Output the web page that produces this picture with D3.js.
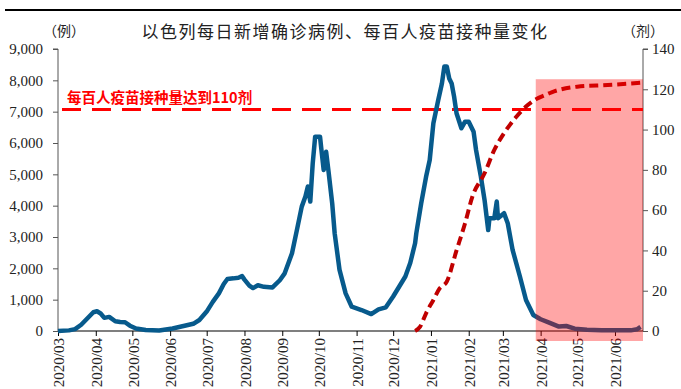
<!DOCTYPE html>
<html lang="zh">
<head>
<meta charset="UTF-8">
<title>以色列每日新增确诊病例、每百人疫苗接种量变化</title>
<script src="https://d3js.org/d3.v7.min.js"></script>
<style>
    body { margin: 0; background: #fff; }
    svg { display: block; }
    .tick text { font-family: "Liberation Serif", "Times New Roman", serif; font-size: 15px; fill: #222; }
    .cjk { font-family: "Noto Sans CJK SC", sans-serif; }
</style>
</head>
<body>
<svg width="681" height="389"></svg>
<script>
// 以色列每日新增确诊病例（例）
const caseDates = ["2020-03-01","2020-03-10","2020-03-15","2020-03-20","2020-03-25","2020-03-30","2020-04-02","2020-04-05","2020-04-08","2020-04-12","2020-04-17","2020-04-21","2020-04-25","2020-04-29","2020-05-04","2020-05-12","2020-05-23","2020-06-03","2020-06-12","2020-06-20","2020-06-25","2020-07-01","2020-07-06","2020-07-11","2020-07-15","2020-07-18","2020-07-23","2020-07-27","2020-07-30","2020-08-01","2020-08-05","2020-08-08","2020-08-12","2020-08-17","2020-08-24","2020-08-30","2020-09-03","2020-09-09","2020-09-13","2020-09-17","2020-09-20","2020-09-22","2020-09-24","2020-09-26","2020-09-28","2020-10-02","2020-10-03","2020-10-05","2020-10-07","2020-10-09","2020-10-12","2020-10-14","2020-10-18","2020-10-23","2020-10-28","2020-11-05","2020-11-13","2020-11-19","2020-11-25","2020-12-01","2020-12-11","2020-12-15","2020-12-19","2020-12-20","2020-12-24","2020-12-28","2020-12-31","2021-01-03","2021-01-07","2021-01-10","2021-01-12","2021-01-14","2021-01-16","2021-01-18","2021-01-20","2021-01-22","2021-01-26","2021-01-29","2021-02-01","2021-02-05","2021-02-07","2021-02-11","2021-02-14","2021-02-17","2021-02-18","2021-02-22","2021-02-24","2021-02-25","2021-03-02","2021-03-05","2021-03-09","2021-03-15","2021-03-20","2021-03-26","2021-04-01","2021-04-08","2021-04-16","2021-04-22","2021-04-29","2021-05-09","2021-05-21","2021-06-01","2021-06-14","2021-06-19","2021-06-22"];
const caseValues = [0,20,60,200,400,600,630,560,420,450,310,290,280,170,80,30,15,80,160,230,350,620,930,1200,1500,1660,1680,1700,1750,1640,1450,1370,1460,1410,1390,1620,1840,2480,3220,3970,4290,4610,4130,5350,6200,6200,5830,5140,5720,5080,4070,3120,1950,1200,775,670,540,690,755,1100,1740,2170,2800,3120,4070,4920,5460,6630,7370,7900,8440,8440,8060,7900,7480,6950,6470,6680,6680,6360,5780,4920,4180,3220,3600,3600,4130,3600,3760,3440,2590,1740,990,510,375,265,140,160,75,40,25,20,20,55,130];

// 每百人疫苗接种量（剂）
const vacDates = ["2020-12-19","2020-12-23","2020-12-28","2021-01-03","2021-01-08","2021-01-14","2021-01-22","2021-01-29","2021-02-04","2021-02-14","2021-02-22","2021-03-02","2021-03-11","2021-03-20","2021-03-28","2021-04-05","2021-04-10","2021-05-01","2021-05-26","2021-06-24"];
const vacValues = [0,2,8.8,15.4,21,24.5,40,53.5,66.7,78.3,89.9,98.2,105.6,111.4,115,117.2,118.5,121.3,122.1,123.3];

const monthTicks = ["2020/03","2020/04","2020/05","2020/06","2020/07","2020/08","2020/09","2020/10","2020/11","2020/12","2021/01","2021/02","2021/03","2021/04","2021/05","2021/06"];
const leftTicks = [0,1000,2000,3000,4000,5000,6000,7000,8000,9000];
const rightTicks = [0,20,40,60,80,100,120,140];
const threshold = 110;
const highlightRange = ["2021-03-28", "2021-06-24"];

const parse = d3.timeParse("%Y-%m-%d");
const parseMonth = d3.timeParse("%Y/%m");

const svg = d3.select("svg");
const margin = { left: 58, right: 38, top: 49, bottom: 58 };
const width = 681, height = 389;
const x0 = margin.left, x1 = width - margin.right;
const yBottom = height - margin.bottom, yTop = margin.top;

const x = d3.scaleTime()
    .domain([parse("2020-03-01"), parse("2021-06-24")])
    .range([x0, x1]);
const yL = d3.scaleLinear().domain([0, 9000]).range([yBottom, yTop]);
const yR = d3.scaleLinear().domain([0, 140]).range([yBottom, yTop]);

// top rule
svg.append("line")
    .attr("x1", 5).attr("x2", width).attr("y1", 10).attr("y2", 10)
    .attr("stroke", "#000").attr("stroke-width", 2.2);

// title and unit labels
svg.append("text").attr("class", "cjk")
    .attr("x", 345).attr("y", 38).attr("text-anchor", "middle")
    .attr("font-size", 17).attr("letter-spacing", 1.5).attr("fill", "#222")
    .text("以色列每日新增确诊病例、每百人疫苗接种量变化");
svg.append("text").attr("class", "cjk")
    .attr("x", 64).attr("y", 36).attr("text-anchor", "middle")
    .attr("font-size", 14).attr("fill", "#222").text("（例）");
svg.append("text").attr("class", "cjk")
    .attr("x", 643).attr("y", 36).attr("text-anchor", "middle")
    .attr("font-size", 14).attr("fill", "#222").text("（剂）");

// axes
const gL = svg.append("g").attr("transform", `translate(${x0},0)`)
    .call(d3.axisLeft(yL).tickValues(leftTicks).tickSize(5).tickPadding(10).tickFormat(d3.format(",")));
gL.select(".domain").attr("d", `M-5,${yTop}H0V${yBottom}`).attr("stroke", "#555");
gL.selectAll(".tick line").attr("stroke", "#555");

const gR = svg.append("g").attr("transform", `translate(${x1},0)`)
    .call(d3.axisRight(yR).tickValues(rightTicks).tickSize(5).tickPadding(4));
gR.select(".domain").attr("d", `M5,${yTop}H0V${yBottom}`).attr("stroke", "#555");
gR.selectAll(".tick line").attr("stroke", "#555");

const gX = svg.append("g").attr("transform", `translate(0,${yBottom})`)
    .call(d3.axisBottom(x).tickValues(monthTicks.map(parseMonth)).tickSize(5).tickFormat(d3.timeFormat("%Y/%m")));
gX.select(".domain").attr("d", `M${x0},0H${x1}`).attr("stroke", "#000").attr("stroke-width", 1.2);
gX.selectAll(".tick line").attr("stroke", "#000");
gX.selectAll(".tick text")
    .attr("transform", "rotate(-90)")
    .attr("text-anchor", "end")
    .attr("x", -7).attr("y", 0).attr("dy", "0.38em")
    .attr("font-size", 14.5);

// threshold line
svg.append("line")
    .attr("x1", 62).attr("x2", x1)
    .attr("y1", yR(threshold)).attr("y2", yR(threshold))
    .attr("stroke", "#ff0000").attr("stroke-width", 3)
    .attr("stroke-dasharray", "19,11");
svg.append("text").attr("class", "cjk")
    .attr("x", 67).attr("y", 103)
    .attr("font-size", 14.5).attr("font-weight", "bold").attr("fill", "#ff0000")
    .text("每百人疫苗接种量达到110剂");

// case line
const cases = caseDates.map((d, i) => ({ date: parse(d), value: caseValues[i] }));
svg.append("path")
    .datum(cases)
    .attr("fill", "none").attr("stroke", "#075a8c").attr("stroke-width", 4.5)
    .attr("stroke-linejoin", "round")
    .attr("d", d3.line().x(d => x(d.date)).y(d => yL(d.value)));

// vaccine line
const vac = vacDates.map((d, i) => ({ date: parse(d), value: vacValues[i] }));
svg.append("path")
    .datum(vac)
    .attr("fill", "none").attr("stroke", "#c00000").attr("stroke-width", 4)
    .attr("stroke-dasharray", "9,5")
    .attr("d", d3.line().curve(d3.curveMonotoneX).x(d => x(d.date)).y(d => yR(d.value)));

// highlighted period
const hx0 = x(parse(highlightRange[0])), hx1 = x(parse(highlightRange[1]));
svg.append("rect")
    .attr("x", hx0).attr("width", hx1 - hx0)
    .attr("y", yR(125)).attr("height", yBottom + 10 - yR(125))
    .attr("fill", "#ff0000").attr("opacity", 0.35);
</script>
</body>
</html>
